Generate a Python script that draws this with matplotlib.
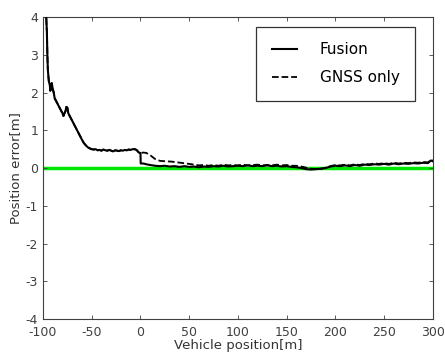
import matplotlib
matplotlib.use('Agg')
import matplotlib.pyplot as plt

plt.rcParams['axes.unicode_minus'] = False

# Fusion (solid)
fus_x = [-100, -98, -97, -96, -95.5, -95, -94, -93, -92.5, -92, -91, -90, -89, -88, -86, -84, -82,
         -80, -79, -78, -77, -76, -75, -74, -72, -70, -68, -66, -64, -62, -60, -58, -56, -54,
         -52, -50, -48, -46, -44, -42, -40, -38, -36, -34, -32, -30, -28, -26, -24, -22, -20,
         -18, -16, -14, -12, -10, -8, -6, -4, -2, -1, 0, 0.3, 3, 6, 10, 15, 20, 25, 30, 35, 40,
         45, 50, 55, 60, 65, 70, 75, 80, 85, 90, 95, 100, 105, 110, 115, 120, 125, 130, 135, 140,
         145, 150, 155, 160, 165, 170, 175, 180, 185, 190, 195, 200, 205, 210, 215, 220, 225,
         230, 235, 240, 245, 250, 255, 260, 265, 270, 275, 280, 285, 290, 295, 298, 300]
fus_y = [6.0, 4.8, 4.2, 3.6, 3.0, 2.6, 2.3, 2.2, 2.05, 2.1, 2.25, 2.1, 2.0, 1.85, 1.75, 1.65, 1.55,
         1.45, 1.38, 1.45, 1.5, 1.62, 1.6, 1.45, 1.35, 1.25, 1.15, 1.05, 0.95, 0.85, 0.75, 0.66,
         0.6, 0.55, 0.52, 0.5, 0.49, 0.5, 0.47, 0.48, 0.46, 0.49, 0.47, 0.46, 0.48, 0.46, 0.44,
         0.47, 0.46, 0.45, 0.47, 0.46, 0.48, 0.47, 0.49, 0.48, 0.5, 0.5, 0.48, 0.42, 0.40, 0.40,
         0.12, 0.12, 0.10, 0.08, 0.06, 0.05, 0.06, 0.04, 0.05, 0.03, 0.05, 0.03, 0.04, 0.02,
         0.04, 0.03, 0.05, 0.04, 0.06, 0.04, 0.05, 0.06, 0.05, 0.07, 0.05, 0.06, 0.05, 0.07,
         0.05, 0.06, 0.04, 0.05, 0.03, 0.02, 0.0, -0.03, -0.04, -0.03, -0.02, 0.0, 0.04, 0.06,
         0.05, 0.07, 0.05, 0.08, 0.06, 0.09, 0.08, 0.1, 0.09, 0.11, 0.09, 0.12, 0.1, 0.12, 0.11,
         0.13, 0.12, 0.14, 0.13, 0.2, 0.18]

# GNSS only (dashed)
gnss_x = [-100, -98, -97, -96, -95.5, -95, -94, -93, -92.5, -92, -91, -90, -89, -88, -86, -84, -82,
          -80, -79, -78, -77, -76, -75, -74, -72, -70, -68, -66, -64, -62, -60, -58, -56, -54,
          -52, -50, -48, -46, -44, -42, -40, -38, -36, -34, -32, -30, -28, -26, -24, -22, -20,
          -18, -16, -14, -12, -10, -8, -6, -4, -2, -1, 0, 3, 6, 10, 15, 20, 25, 32, 38, 44, 50,
          55, 60, 65, 70, 75, 80, 85, 90, 95, 100, 105, 110, 115, 120, 125, 130, 135, 140, 145,
          150, 155, 160, 165, 170, 175, 180, 185, 190, 195, 200, 205, 210, 215, 220, 225, 230,
          235, 240, 245, 250, 255, 260, 265, 270, 275, 280, 285, 290, 295, 298, 300]
gnss_y = [6.0, 4.8, 4.2, 3.6, 3.0, 2.6, 2.3, 2.2, 2.05, 2.1, 2.25, 2.1, 2.0, 1.85, 1.75, 1.65, 1.55,
          1.45, 1.38, 1.45, 1.5, 1.62, 1.6, 1.45, 1.35, 1.25, 1.15, 1.05, 0.95, 0.85, 0.75, 0.66,
          0.6, 0.55, 0.52, 0.5, 0.49, 0.5, 0.47, 0.48, 0.46, 0.49, 0.47, 0.46, 0.48, 0.46, 0.44,
          0.47, 0.46, 0.45, 0.47, 0.46, 0.48, 0.47, 0.49, 0.48, 0.5, 0.5, 0.48, 0.42, 0.40, 0.40,
          0.41, 0.40, 0.34, 0.24, 0.19, 0.18, 0.17, 0.15, 0.13, 0.11, 0.09, 0.07, 0.08, 0.06,
          0.08, 0.06, 0.09, 0.07, 0.08, 0.07, 0.09, 0.07, 0.08, 0.09, 0.07, 0.08, 0.07, 0.09,
          0.07, 0.08, 0.06, 0.06, 0.04, 0.01, -0.02, -0.03, -0.02, 0.01, 0.05, 0.08, 0.07,
          0.09, 0.07, 0.1, 0.08, 0.11, 0.1, 0.12, 0.11, 0.13, 0.11, 0.14, 0.12, 0.14, 0.13,
          0.15, 0.14, 0.16, 0.15, 0.21, 0.2]

fig = plt.figure(figsize=(4.45, 3.56), dpi=100)
ax = fig.add_axes([0.0966, 0.104, 0.876, 0.848])

ax.axhline(0, color='#00e600', linewidth=2.5, zorder=1)
ax.plot(gnss_x, gnss_y, color='black', linestyle='--', linewidth=1.3, label='GNSS only', zorder=2)
ax.plot(fus_x, fus_y, color='black', linestyle='-', linewidth=1.5, label='Fusion', zorder=3)

ax.set_xlim(-100, 300)
ax.set_ylim(-4, 4)
ax.set_xticks(range(-100, 301, 50))
ax.set_yticks(range(-4, 5, 1))
ax.tick_params(direction='in', top=True, right=True, length=3, labelsize=9,
               colors='#404040', width=0.6)
ax.tick_params(axis='x', pad=5)
for s in ax.spines.values():
    s.set_color('#404040')
    s.set_linewidth(0.8)

ax.set_xlabel('Vehicle position[m]', fontsize=9.5, color='#333333', labelpad=0)
ax.set_ylabel('Position error[m]', fontsize=9.5, color='#333333', labelpad=3)

h, l = ax.get_legend_handles_labels()
leg = ax.legend([h[1], h[0]], [l[1], l[0]], loc='upper right', bbox_to_anchor=(0.954, 0.967),
                fontsize=11, frameon=True, fancybox=False, edgecolor='black',
                handlelength=1.65, handletextpad=1.5, labelspacing=0.85, borderpad=1.0,
                borderaxespad=0)
leg.get_frame().set_linewidth(0.9)

fig.savefig('out.png', dpi=100)
